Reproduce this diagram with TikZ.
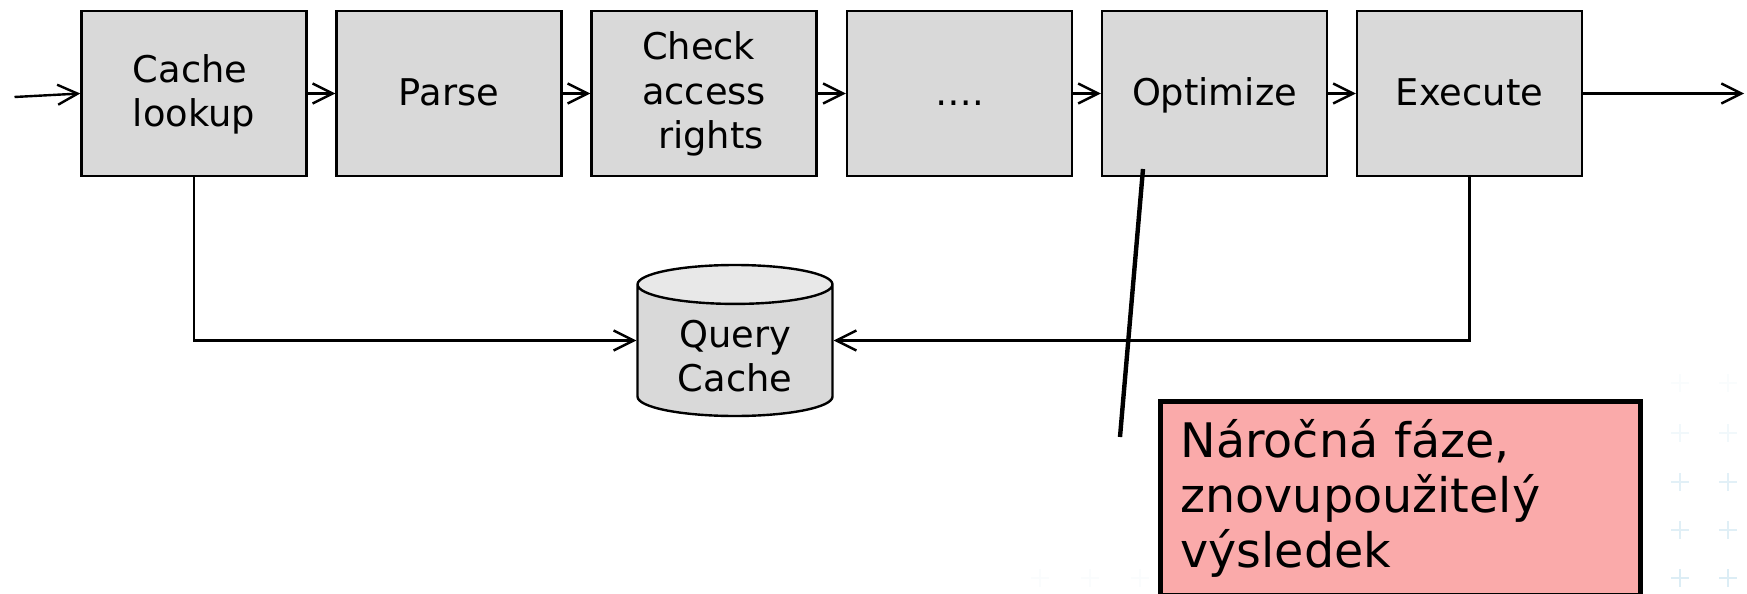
\documentclass[tikz,border=0pt]{standalone}
\usepackage{fontspec}
\setmainfont{DejaVu Sans}
\usetikzlibrary{arrows.meta,shapes.geometric}
\definecolor{boxgray}{RGB}{217,217,217}
\definecolor{capgray}{RGB}{232,232,232}
\definecolor{notered}{RGB}{250,170,170}
\definecolor{plusblue}{RGB}{214,234,243}
\tikzset{
  stagebox/.style={draw=black, fill=boxgray, line width=1.2pt, minimum width=112.5pt, minimum height=82.5pt, inner sep=0pt, font=\fontsize{18.4}{22.3}\selectfont, align=left},
  oneline/.style={stagebox, text height=15.7pt, text depth=4pt},
  flow/.style={line width=1.2pt, -{Straight Barb[length=10pt,width=10pt]}},
}
\begin{document}
\begin{tikzpicture}[x=0.5pt, y=-0.5pt]
  \useasboundingbox (0,0) rectangle (1747,594);
  % backdrop
  \foreach \y/\f in {383/15,433/35,482/70,530/75,578/85}
    \foreach \x in {1680,1728}
      \draw [plusblue!\f, line width=.8pt] (\x-9,\y) -- (\x+9,\y) (\x,\y-9) -- (\x,\y+9);
  \foreach \x in {1040,1090,1140}
    \draw [plusblue!12, line width=.8pt] (\x-9,578) -- (\x+9,578) (\x,569) -- (\x,587);
  % stages
  \node [stagebox] (lookup) at (194,93.5) {\rule{0pt}{15pt}Cache\\lookup};
  \node [oneline] (parse) at (449,93.5) {Parse};
  \node [stagebox] (rights) at (704,93.5) {\rule{0pt}{14.5pt}Check\\access\\\hspace*{8pt}rights};
  \node [oneline] (dots) at (959.5,93.5) {….};
  \node [oneline] (optimize) at (1214.5,93.5) {Optimize};
  \node [oneline] (execute) at (1469.5,93.5) {Execute};
  \node [draw=black, line width=1.2pt, shape=cylinder, shape border rotate=90, aspect=.34,
    cylinder uses custom fill, cylinder body fill=boxgray, cylinder end fill=capgray,
    minimum width=97.5pt, minimum height=75.5pt, inner sep=0pt, align=center, anchor=shape center,
    font=\fontsize{18.4}{22.3}\selectfont] (cache) at (735,340.5) {\rule{0pt}{19pt}Query\\Cache};
  % note
  \node [draw=black, fill=notered, line width=2.5pt, anchor=north west, minimum width=240pt, minimum height=97pt,
    inner sep=0pt, text width=220pt, align=left, font=\fontsize{23.8}{27.6}\selectfont] (note) at (1158,399)
    {Náročná fáze,\\znovupoužitelý\\výsledek};
  \coordinate (start) at (14.5,97);
  \coordinate (finish) at (1744,93.5);
  \coordinate (tiptop) at (1143,169);
  \coordinate (tipend) at (1120,437);
  % flow
  \draw [flow] (start) -- (lookup.west);
  \draw [flow] (lookup) -- (parse);
  \draw [flow] (parse) -- (rights);
  \draw [flow] (rights) -- (dots);
  \draw [flow] (dots) -- (optimize);
  \draw [flow] (optimize) -- (execute);
  \draw [flow] (execute) -- (finish);
  \draw [flow] (lookup.south) |- (cache.west |- cache.shape center);
  \draw [flow] (execute.south) |- (cache.east |- cache.shape center);
  \draw [line width=2.2pt] (tiptop) -- (tipend);
\end{tikzpicture}
\end{document}
